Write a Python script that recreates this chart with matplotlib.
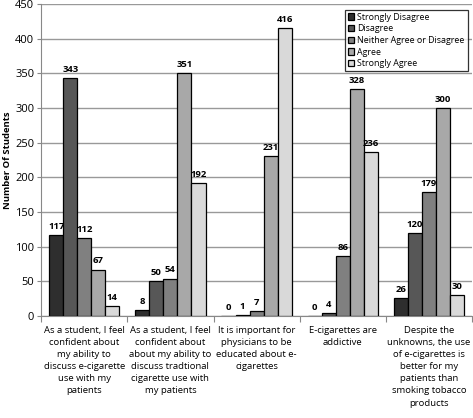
import numpy as np
import matplotlib.pyplot as plt

categories = [
    "As a student, I feel\nconfident about\nmy ability to\ndiscuss e-cigarette\nuse with my\npatients",
    "As a student, I feel\nconfident about\nabout my ability to\ndiscuss tradtional\ncigarette use with\nmy patients",
    "It is important for\nphysicians to be\neducated about e-\ncigarettes",
    "E-cigarettes are\naddictive",
    "Despite the\nunknowns, the use\nof e-cigarettes is\nbetter for my\npatients than\nsmoking tobacco\nproducts",
]
responses = ["Strongly Disagree", "Disagree", "Neither Agree or Disagree",
             "Agree", "Strongly Agree"]
strongly_disagree = [117, 8, 0, 0, 26]
disagree = [343, 50, 1, 4, 120]
neither = [112, 54, 7, 86, 179]
agree = [67, 351, 231, 328, 300]
strongly_agree = [14, 192, 416, 236, 30]
series = [strongly_disagree, disagree, neither, agree, strongly_agree]
colors = ["#2e2e2e", "#575757", "#808080", "#a8a8a8", "#d9d9d9"]

plt.rcParams['font.family'] = ['Open Sans', 'DejaVu Sans']

fig = plt.figure(figsize=(4.73, 4.18), dpi=100)
ax = fig.add_axes([0.087, 0.244, 0.911, 0.746])

x = np.arange(len(categories))
width = 0.163
for i, (vals, col, name) in enumerate(zip(series, colors, responses)):
    pos = x + (i - 2) * width
    bars = ax.bar(pos, vals, width, color=col, edgecolor='black',
                  linewidth=0.9, label=name, zorder=3)
    for b, v in zip(bars, vals):
        ax.text(b.get_x() + b.get_width() / 2, v + 6, str(v),
                ha='center', va='bottom', fontsize=6.8, fontweight='bold')

ax.set_xlim(-0.5, len(categories) - 0.5)
ax.set_ylim(0, 450)
ax.set_yticks(np.arange(0, 451, 50))
ax.tick_params(axis='y', labelsize=8, length=3, color='#888888', pad=2)
ax.yaxis.grid(True, color='#999999', linewidth=1, zorder=0)
ax.set_xticks(np.arange(-0.5, len(categories), 1.0))
ax.set_xticklabels([])
ax.set_xticks(x, minor=True)
ax.set_xticklabels(categories, minor=True, fontsize=6.8, linespacing=1.45)
ax.tick_params(axis='x', which='major', length=4, color='#888888')
ax.tick_params(axis='x', which='minor', length=0, pad=7)
for s in ['top', 'right']:
    ax.spines[s].set_visible(False)
for s in ['left', 'bottom']:
    ax.spines[s].set_color('#888888')
ax.set_ylabel("Number Of Students", fontsize=6.8, fontweight='bold', labelpad=2)

leg = ax.legend(loc='upper right', bbox_to_anchor=(1.0, 0.997), fontsize=6.4,
                frameon=True, fancybox=False, edgecolor='black',
                handlelength=0.7, handleheight=0.7, handletextpad=0.3,
                borderpad=0.35, labelspacing=0.3)
leg.get_frame().set_linewidth(0.9)

fig.savefig('out.png', dpi=100)
